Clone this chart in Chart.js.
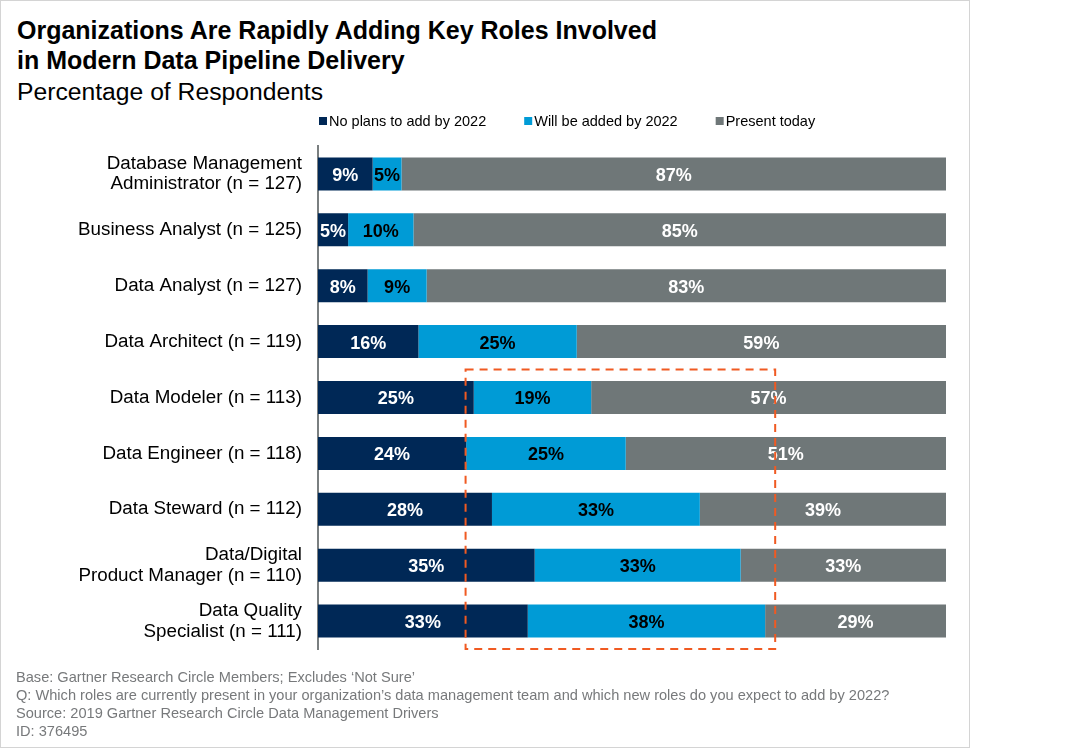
<!DOCTYPE html>
<html>
<head>
<meta charset="utf-8">
<script src="https://cdn.jsdelivr.net/npm/chart.js@4.4.1/dist/chart.umd.min.js"></script>
<style>
  html, body { margin: 0; padding: 0; background: #fff; }
  #page { position: relative; width: 1072px; height: 749px; overflow: hidden; font-family: 'Liberation Sans', Arial, sans-serif; }
  #frame { position: absolute; left: 0; top: 0; width: 970px; height: 748px; border: 1px solid #d4d4d4; box-sizing: border-box; }
  #title { position: absolute; left: 17px; top: 15px; font-size: 25px; font-weight: bold; line-height: 30px; color: #000; }
  #subtitle { position: absolute; left: 17px; top: 77px; font-size: 24.7px; line-height: 30px; color: #000; }
  #notes { position: absolute; left: 16px; top: 668px; font-size: 14.6px; line-height: 18px; color: #77797b; }
  #chart { position: absolute; left: 0; top: 0; }
</style>
</head>
<body>
<div id="page">
  <div id="frame"></div>
  <div id="title">Organizations Are Rapidly Adding Key Roles Involved<br>in Modern Data Pipeline Delivery</div>
  <div id="subtitle">Percentage of Respondents</div>
  <canvas id="chart" width="1072" height="749"></canvas>
  <div id="notes">
    Base: Gartner Research Circle Members; Excludes ‘Not Sure’<br>
    Q: Which roles are currently present in your organization’s data management team and which new roles do you expect to add by 2022?<br>
    Source: 2019 Gartner Research Circle Data Management Drivers<br>
    ID: 376495
  </div>
</div>
<script>
// --- DATA ---
const ROLES = [
    ['Database Management', 'Administrator (n = 127)'],
    'Business Analyst (n = 125)',
    'Data Analyst (n = 127)',
    'Data Architect (n = 119)',
    'Data Modeler (n = 113)',
    'Data Engineer (n = 118)',
    'Data Steward (n = 112)',
    ['Data/Digital', 'Product Manager (n = 110)'],
    ['Data Quality', 'Specialist (n = 111)']
];
const SERIES_NAMES = ['No plans to add by 2022', 'Will be added by 2022', 'Present today'];
const NO_PLANS = [8.7, 4.8, 7.9, 16.0, 24.8, 23.6, 27.7, 34.5, 33.4];
const WILL_ADD = [4.6, 10.4, 9.4, 25.2, 18.7, 25.4, 33.1, 32.8, 37.8];
const PRESENT = [86.7, 84.8, 82.7, 58.8, 56.5, 51.0, 39.2, 32.7, 28.8];

// highlighted block (orange dashed box), in axis units
const HIGHLIGHT_X = [23.5, 72.8];
const HIGHLIGHT_Y = [3.5, 8.5];

const COLORS = {
    navy: '#002856',
    blue: '#009bd6',
    gray: '#6f7778',
    orange: '#f05a22'
};
const LABEL_COLORS = ['#ffffff', '#000000', '#ffffff'];
const FONT = "'Liberation Sans', Arial, sans-serif";

// --- PLUGINS ---

const barLabels = {
    id: 'barLabels',
    afterDatasetsDraw(chart) {
        const ctx = chart.ctx;
        ctx.save();
        ctx.font = `bold 18px ${FONT}`;
        ctx.textAlign = 'center';
        ctx.textBaseline = 'middle';
        chart.data.datasets.forEach((ds, i) => {
            const meta = chart.getDatasetMeta(i);
            ctx.fillStyle = LABEL_COLORS[i];
            meta.data.forEach((bar, j) => {
                const mid = (bar.x + bar.base) / 2;
                ctx.fillText(`${Math.round(ds.data[j])}%`, mid, bar.y + 2);
            });
        });
        ctx.restore();
    }
};

const highlightBox = {
    id: 'highlightBox',
    afterDraw(chart) {
        const { ctx, scales: { x, y } } = chart;
        const x0 = x.getPixelForValue(HIGHLIGHT_X[0]);
        const x1 = x.getPixelForValue(HIGHLIGHT_X[1]);
        const y0 = y.getPixelForValue(HIGHLIGHT_Y[0]);
        const y1 = y.getPixelForValue(HIGHLIGHT_Y[1]);
        ctx.save();
        ctx.strokeStyle = COLORS.orange;
        ctx.lineWidth = 2;
        ctx.setLineDash([8, 6]);
        ctx.strokeRect(x0, y0, x1 - x0, y1 - y0);
        ctx.restore();
    }
};

// legend sits left-aligned on the plot area, above it
const topLegend = {
    id: 'topLegend',
    afterDraw(chart) {
        const ctx = chart.ctx;
        let cx = chart.chartArea.left + 1;
        const cy = 121;
        ctx.save();
        ctx.font = `14.5px ${FONT}`;
        ctx.textBaseline = 'middle';
        ctx.textAlign = 'left';
        chart.data.datasets.forEach(ds => {
            ctx.fillStyle = ds.backgroundColor;
            ctx.fillRect(cx, cy - 4, 8, 8);
            ctx.fillStyle = '#000';
            ctx.fillText(ds.label, cx + 10, cy + 1);
            cx += 10 + ctx.measureText(ds.label).width + 38;
        });
        ctx.restore();
    }
};

// --- CHART ---

function setupChart() {
    const canvas = document.getElementById('chart');
    new Chart(canvas.getContext('2d'), {
        type: 'bar',
        data: {
            labels: ROLES,
            datasets: [
                { label: SERIES_NAMES[0], data: NO_PLANS, backgroundColor: COLORS.navy },
                { label: SERIES_NAMES[1], data: WILL_ADD, backgroundColor: COLORS.blue },
                { label: SERIES_NAMES[2], data: PRESENT, backgroundColor: COLORS.gray }
            ]
        },
        options: {
            indexAxis: 'y',
            responsive: false,
            animation: false,
            layout: { padding: { top: 146, bottom: 100, right: 126, left: 0 } },
            datasets: { bar: { categoryPercentage: 1, barPercentage: 0.59, borderWidth: 0 } },
            scales: {
                x: { stacked: true, min: 0, max: 100, display: false },
                y: {
                    stacked: true,
                    grid: { display: false, drawTicks: false },
                    border: { display: true, color: '#7a7f80', width: 2 },
                    ticks: {
                        color: '#000',
                        padding: 16,
                        font: { family: FONT, size: 18.8, lineHeight: 1.1 }
                    },
                    afterFit: (scale) => { scale.width = 318; }
                }
            },
            plugins: {
                legend: { display: false },
                tooltip: { enabled: false }
            }
        },
        plugins: [barLabels, highlightBox, topLegend]
    });
}

setupChart();
</script>
</body>
</html>
